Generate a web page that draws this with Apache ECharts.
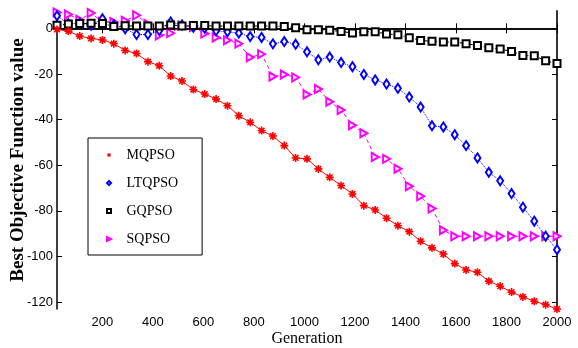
<!DOCTYPE html>
<html><head><meta charset="utf-8">
<script src="https://cdn.jsdelivr.net/npm/echarts@6/dist/echarts.min.js"></script>
<style>html,body{margin:0;padding:0;background:#fff}#c{width:578px;height:348px}</style>
</head><body><div id="c"></div>
<script>
const generations = [20,65,110,155,200,245,290,335,380,425,470,515,560,605,650,695,740,785,830,875,920,965,1010,1055,1100,1145,1190,1235,1280,1325,1370,1415,1460,1505,1550,1595,1640,1685,1730,1775,1820,1865,1910,1955,2000];
const MQPSO = [-0.5,-1.2,-3.4,-4.4,-5.1,-6.7,-9.7,-11.0,-14.6,-16.4,-20.9,-23.1,-26.8,-28.8,-31.0,-33.9,-38.3,-41.2,-44.8,-47.2,-51.4,-56.8,-57.2,-61.6,-65.3,-68.9,-72.6,-77.7,-79.6,-83.2,-86.5,-89.1,-93.3,-96.2,-98.9,-103.1,-105.9,-106.9,-110.8,-113.0,-115.6,-117.7,-119.6,-121.1,-123.0];
const LTQPSO = [5.5,2.0,2.3,1.4,4.2,1.6,-0.2,-2.7,-2.7,-1.0,2.8,1.5,0.5,0.0,-1.1,-1.5,-2.1,-3.6,-4.0,-6.8,-5.8,-7.0,-10.3,-13.8,-12.6,-15.0,-16.8,-20.2,-22.6,-24.4,-26.3,-30.1,-34.5,-42.7,-43.2,-46.6,-51.4,-56.8,-63.1,-66.8,-72.4,-78.4,-84.5,-91.1,-97.0];
const GQPSO = [1.4,1.9,2.1,2.2,2.1,0.8,1.1,1.0,1.0,1.0,1.5,1.0,1.2,1.2,1.0,1.0,1.0,1.0,1.0,1.0,0.8,0.3,-0.6,-0.6,-0.8,-1.4,-2.0,-1.5,-1.5,-2.5,-2.8,-4.1,-5.3,-5.7,-6.0,-6.0,-6.7,-7.5,-8.5,-9.1,-10.1,-11.9,-12.0,-14.2,-15.4];
const SQPSO = [7.0,6.1,3.8,6.7,2.8,2.8,3.3,5.7,1.9,-3.1,-2.1,1.3,0.6,-2.3,-4.0,-5.2,-6.7,-12.7,-11.3,-21.1,-20.2,-21.5,-29.0,-26.6,-32.2,-35.8,-42.5,-46.0,-56.4,-57.2,-61.5,-69.2,-73.6,-79.0,-88.5,-91.1,-91.1,-91.1,-91.1,-91.1,-91.1,-91.1,-91.1,-91.1,-91.1];
const xTicks = [200,400,600,800,1000,1200,1400,1600,1800,2000];
const yTicks = [-120,-100,-80,-60,-40,-20,0];
const seriesNames = ['MQPSO','LTQPSO','GQPSO','SQPSO'];

const pair = arr => generations.map((g,i)=>[g, arr[i]]);
const asterisk = 'path://M-10,-2L10,-2L10,2L-10,2Z M-2,-10L2,-10L2,10L-2,10Z M-5.66,-8.48L8.48,5.66L5.66,8.48L-8.48,-5.66Z M5.66,-8.48L8.48,-5.66L-5.66,8.48L-8.48,5.66Z';

const chart = echarts.init(document.getElementById('c'), null, {renderer:'canvas'});
const tickStyle = {show:true, inside:true, length:5, lineStyle:{color:'#000', width:1}};
const lineAx = {show:true, lineStyle:{color:'#000', width:1.5}};
chart.setOption({
  animation:false,
  backgroundColor:'#fff',
  grid:{left:57, right:21, top:11, bottom:39, containLabel:false, outerBoundsMode:'none'},
  legend:{
    orient:'vertical', left:88, top:138,
    backgroundColor:'#fff', borderColor:'#000', borderWidth:1,
    padding:[10,24,9,18],
    itemWidth:5, itemHeight:5, itemGap:14,
    lineStyle:{width:0},
    textStyle:{fontFamily:'Liberation Serif', fontSize:14, color:'#000', padding:[0,0,0,10], lineHeight:14},
    data: seriesNames
  },
  xAxis:[{
    type:'value', min:20, max:2000, position:'bottom',
    name:'Generation', nameLocation:'middle', nameGap:22, nameMoveOverlap:false,
    nameTextStyle:{fontFamily:'Liberation Serif', fontWeight:'normal', fontSize:16, color:'#000'},
    axisLine:lineAx, splitLine:{show:false},
    axisTick:Object.assign({customValues:xTicks}, tickStyle),
    axisLabel:{customValues:xTicks, formatter:v=>String(v), fontFamily:'Liberation Sans', fontSize:13, color:'#000', margin:7}
  },{
    type:'value', min:20, max:2000, position:'top',
    axisLine:lineAx, splitLine:{show:false},
    axisTick:Object.assign({customValues:xTicks}, tickStyle),
    axisLabel:{show:false}
  }],
  yAxis:[{
    type:'value', min:-123, max:7.6, position:'left',
    name:'Best Objective Function value', nameLocation:'middle', nameGap:29, nameMoveOverlap:false,
    nameTextStyle:{fontFamily:'Liberation Serif', fontWeight:'bold', fontSize:19, color:'#000'},
    axisLine:lineAx, splitLine:{show:false},
    axisTick:Object.assign({customValues:yTicks}, tickStyle),
    axisLabel:{customValues:yTicks, formatter:v=>String(v), fontFamily:'Liberation Sans', fontSize:13, color:'#000', margin:4}
  },{
    type:'value', min:-123, max:7.6, position:'right',
    axisLine:{show:true, lineStyle:{color:'#333', width:2}}, splitLine:{show:false},
    axisTick:Object.assign({customValues:yTicks}, tickStyle),
    axisLabel:{show:false}
  }],
  series:[
    {name:'MQPSO', type:'line', data:pair(MQPSO), symbol:asterisk, symbolSize:8,
     itemStyle:{color:'#ff0000'}, lineStyle:{color:'#ff0000', width:1, type:'solid'}, z:5},
    {name:'LTQPSO', type:'line', data:pair(LTQPSO), symbol:'emptyDiamond', symbolSize:[6,9],
     itemStyle:{color:'#0000ff', borderWidth:1.5}, lineStyle:{color:'#0000ff', width:1, type:'dotted'}, z:3},
    {name:'GQPSO', type:'line', data:pair(GQPSO), symbol:'emptyRect', symbolSize:7,
     itemStyle:{color:'#000000', borderWidth:1.5}, lineStyle:{color:'#000000', width:1, type:[4,2,1,2]}, z:4},
    {name:'SQPSO', type:'line', data:pair(SQPSO), symbol:'emptyTriangle', symbolSize:[8,7], symbolRotate:-90,
     itemStyle:{color:'#ff00ff', borderWidth:1.2}, lineStyle:{color:'#ff00ff', width:1, type:[4,3]}, z:2}
  ]
});
</script></body></html>
